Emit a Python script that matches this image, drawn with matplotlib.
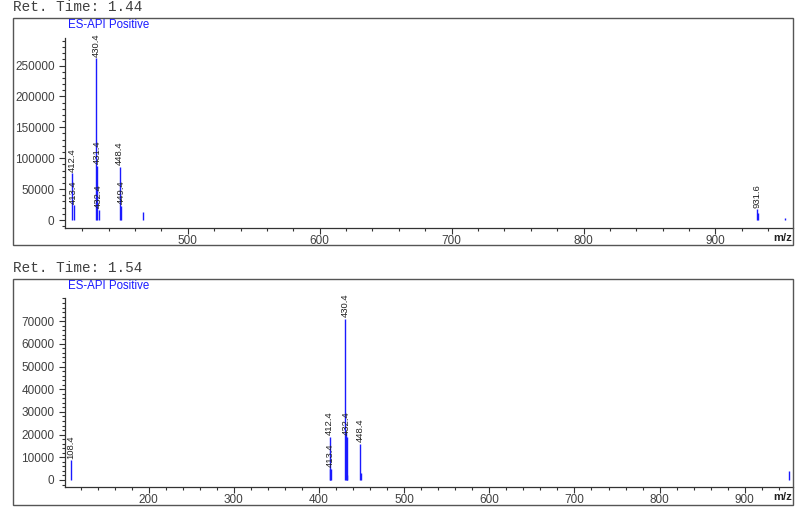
"""Two mass spectra (ES-API Positive) at retention times 1.44 and 1.54."""

import matplotlib
matplotlib.use("Agg")
import matplotlib.pyplot as plt
from matplotlib.patches import Rectangle
from matplotlib.ticker import MultipleLocator

plt.rcParams["font.family"] = ["Liberation Sans", "DejaVu Sans"]

W, H = 800, 514

# spectrum at 1.44 min
rt_top = "1.44"
mz_top = [412.4, 413.4, 430.4, 431.4, 432.4, 448.4, 449.4, 466.4, 931.6, 932.6, 953.0]
int_top = [76000, 24000, 262000, 88000, 17000, 86000, 23000, 13000, 18000, 12000, 4000]
lab_top = ["412.4", "413.4", "430.4", "431.4", "432.4", "448.4", "449.4", "", "931.6", "", ""]

# spectrum at 1.54 min
rt_bot = "1.54"
mz_bot = [108.4, 412.4, 413.4, 414.4, 430.4, 431.4, 432.4, 433.4, 448.4, 449.4, 951.5]
int_bot = [8800, 19000, 5000, 5000, 71000, 21000, 19000, 2000, 16000, 3000, 4000]
lab_bot = ["108.4", "412.4", "413.4", "", "430.4", "", "432.4", "", "448.4", "", ""]

BLUE = "#1a1aff"
GREY = "#404040"


def fx(px):
    return px / W


def fy(py):
    return 1 - py / H


def panel(fig, box, axbox, mz, inten, labels, rt, xlim, ylim, ymaj, ymin):
    x0, y0, x1, y1 = box
    fig.add_artist(Rectangle((fx(x0), fy(y1)), fx(x1 - x0), (y1 - y0) / H,
                             transform=fig.transFigure, fill=False,
                             ec="#555555", lw=1.0))
    fig.text(fx(x0), fy(y0 - 11), f"Ret. Time: {rt}", family="Liberation Mono",
             fontsize=10.4, color=GREY, ha="left", va="center")
    fig.text(fx(68), fy(y0 + 7), "ES-API Positive", color=BLUE,
             fontsize=8.3, ha="left", va="center")

    ax_l, ax_t, ax_r, ax_b = axbox
    ax = fig.add_axes([fx(ax_l), fy(ax_b), fx(ax_r - ax_l), (ax_b - ax_t) / H])
    ax.vlines(mz, 0, inten, color=BLUE, lw=1.0)
    for m, v, t in zip(mz, inten, labels):
        if t:
            ax.annotate(t, (m, v), xytext=(0, 1), textcoords="offset points",
                        rotation=90, ha="center", va="bottom", fontsize=6.8,
                        color="#222222")
    ax.set_xlim(*xlim)
    ax.set_ylim(*ylim)
    ax.spines[["top", "right"]].set_visible(False)
    for s in ("left", "bottom"):
        ax.spines[s].set_color("#333333")
        ax.spines[s].set_linewidth(0.9)
    ax.xaxis.set_major_locator(MultipleLocator(100))
    ax.xaxis.set_minor_locator(MultipleLocator(20))
    ax.yaxis.set_minor_locator(MultipleLocator(ymin))
    # no label at the very top of the axis
    ax.set_yticks(list(range(0, int(ylim[1] - ymaj * 0.1), ymaj)))
    ax.tick_params(axis="x", which="major", length=4.5, width=0.8, pad=0.5,
                   labelsize=8.5, labelcolor=GREY, color="#333333")
    ax.tick_params(axis="x", which="minor", length=2.5, width=0.8, color="#333333")
    ax.tick_params(axis="y", which="major", length=4.5, width=0.8, pad=3,
                   labelsize=8.5, labelcolor=GREY, color="#333333")
    ax.tick_params(axis="y", which="minor", length=2.5, width=0.8, color="#333333")
    ax.patch.set_alpha(0)
    fig.text(fx(x1 - 1), fy(ax_b + 10), "m/z", fontsize=8, fontweight="bold",
             color="#222222", ha="right", va="center")
    return ax


fig = plt.figure(figsize=(W / 100, H / 100), dpi=100)

panel(fig, (13, 18, 793, 245), (65, 38, 793, 228), mz_top, int_top, lab_top,
      rt_top, (406.9, 958.8), (-12900, 294500), 50000, 10000)
panel(fig, (13, 279, 793, 505), (65, 298, 793, 487), mz_bot, int_bot, lab_bot,
      rt_bot, (101.8, 956.6), (-3100, 80200), 10000, 2000)

fig.savefig("out.png", dpi=100)
